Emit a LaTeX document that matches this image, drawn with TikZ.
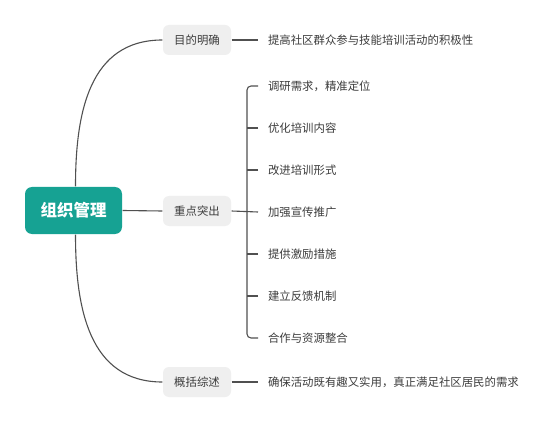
\documentclass[tikz,border=0pt]{standalone}
\usepackage{fontspec}
\setmainfont{Noto Sans CJK SC}
\usetikzlibrary{calc,
positioning}
\definecolor{rootteal}{RGB}{22,162,147}
\definecolor{subgray}{RGB}{239,239,239}
\definecolor{linegray}{RGB}{80,80,80}
\definecolor{textgray}{RGB}{60,60,60}

\begin{document}
\begin{tikzpicture} [x=1pt,
    y=-1pt,
    line width=1.1pt,
    color=linegray,
    root node/.style={rectangle, rounded corners=7pt, fill=rootteal, text=white,
      minimum width=97pt, minimum height=47pt,
      font=\fontsize{16.5}{16.5}\selectfont\bfseries},
    sub node/.style={rectangle, rounded corners=6pt, fill=subgray, text=textgray,
      minimum width=68pt, minimum height=30pt,
      font=\fontsize{11.4}{11.4}\selectfont},
    leaf node/.style={anchor=west, inner sep=0pt, outer xsep=10pt, text=textgray,
      font=\fontsize{11.4}{11.4}\selectfont}]

  \useasboundingbox [fill=white] (0, 0) rectangle (554, 422);

  \node [root node] (root) at (73.5, 210.5) {组织管理};

  \node [sub node] (goal) at (197, 40) {目的明确};
  \node [sub node] (key) at (197, 211) {重点突出};
  \node [sub node] (summ) at (197, 382) {概括综述};

  \draw ($(root.north) + (2, 0)$) to [out=90, in=180, looseness=1.1] (goal.west);
  \draw (root.east) -- (key.west);
  \draw ($(root.south) + (2, 0)$) to [out=-90, in=180, looseness=1.1] (summ.west);

  % goal and summary leaves
  \node [leaf node] (g1) at (258, 40) {提高社区群众参与技能培训活动的积极性};
  \draw (goal.east) -- (g1.west);

  \node [leaf node] (s1) at (258, 382) {确保活动既有趣又实用，真正满足社区居民的需求};
  \draw (summ.east) -- (s1.west);

  % key points
  \foreach \txt [count=\i] in {调研需求，精准定位, 优化培训内容, 改进培训形式,
      加强宣传推广, 提供激励措施, 建立反馈机制, 合作与资源整合}{
      \node [leaf node] (k\i) at (258, 44 + \i * 42) {\txt};
    }

  \coordinate (bar) at (247, 211);
  \draw (key.east) -- (k4.west);
  \draw [rounded corners=4pt] (k1.west) -| (bar) |- (k7.west);
  \foreach \i in {2,3,5,6}{
      \draw (k\i.west) -- (bar |- k\i.west);
    }

\end{tikzpicture}
\end{document}
